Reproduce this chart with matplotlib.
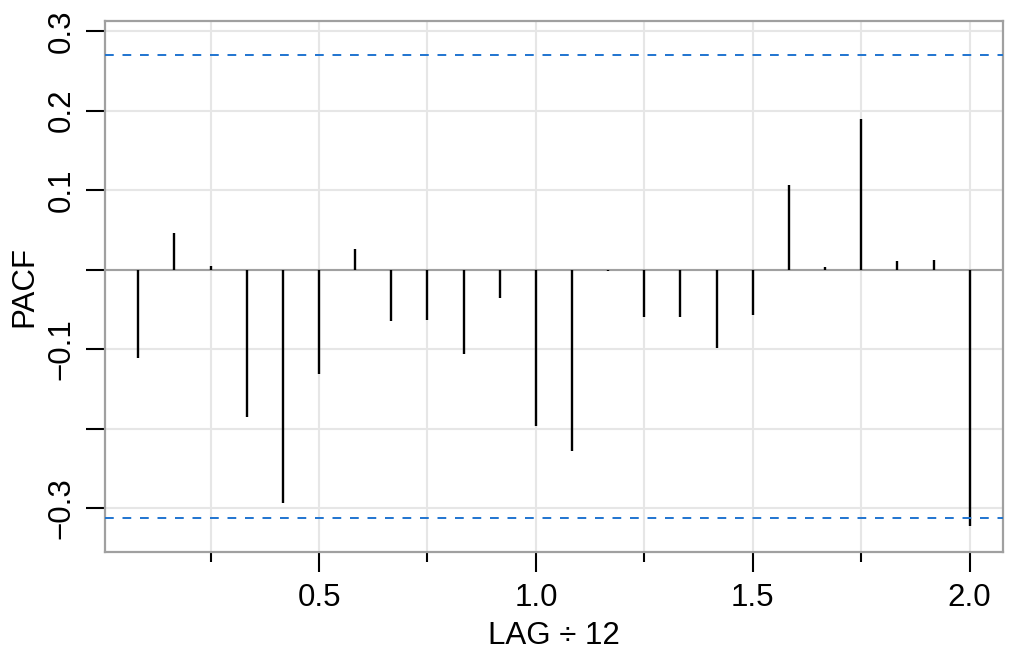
import numpy as np
import matplotlib
matplotlib.use("Agg")
import matplotlib.pyplot as plt

plt.rcParams['font.family'] = ['Liberation Sans', 'DejaVu Sans']

# PACF values, lags 1..24 (monthly, shown as lag/12)
lags = np.arange(1, 25)
pacf = [-0.111, 0.046, 0.004, -0.185, -0.294, -0.131, 0.026, -0.064,
        -0.063, -0.106, -0.036, -0.197, -0.228, -0.002, -0.060, -0.059,
        -0.098, -0.057, 0.107, 0.003, 0.189, 0.011, 0.012, -0.322]
upper_lim = 0.270
lower_lim = -0.312

y_ticks = [0.3, 0.2, 0.1, 0.0, -0.1, -0.2, -0.3]
y_labels = ['0.3', '0.2', '0.1', '', '\u22120.1', '', '\u22120.3']
x_major = [0.5, 1.0, 1.5, 2.0]
x_minor = [0.25, 0.75, 1.25, 1.75]

fig = plt.figure(figsize=(10.1, 6.52), dpi=100)
ax = fig.add_axes([0.104, 0.1534, 0.889, 0.8144])

x = lags / 12
ax.set_xlim(0.0067, 2.0767)
ax.set_ylim(-0.3551, 0.3128)

# grid
for g in x_major + x_minor:
    ax.axvline(g, color='#e6e6e6', lw=1.5, zorder=0)
for g in y_ticks:
    ax.axhline(g, color='#e6e6e6', lw=1.5, zorder=0)

ax.axhline(0, color='#a0a0a0', lw=1.5, zorder=1)
ax.vlines(x, 0, pacf, color='black', lw=1.7, zorder=2)
ax.axhline(upper_lim, color='#1f74d0', lw=1.4, ls=(0, (4.5, 4.5)), zorder=3)
ax.axhline(lower_lim, color='#1f74d0', lw=1.4, ls=(0, (4.5, 4.5)), zorder=3)

for s in ax.spines.values():
    s.set_color('#a0a0a0')
    s.set_linewidth(1.6)

fs = 22.5
ax.set_yticks(y_ticks)
ax.set_yticklabels(y_labels, rotation=90, va='center')
ax.set_xticks(x_major)
ax.set_xticklabels(['0.5', '1.0', '1.5', '2.0'])
ax.set_xticks(x_minor, minor=True)
ax.tick_params(axis='y', length=13.7, width=1.5, pad=7, labelsize=fs)
ax.tick_params(axis='x', which='major', length=14.4, width=1.5, pad=8, labelsize=fs)
ax.tick_params(axis='x', which='minor', length=7.2, width=1.5)

ax.set_xlabel('LAG \u00f7 12', fontsize=fs)
ax.xaxis.set_label_coords(0.5, -0.130)
ax.set_ylabel('PACF', fontsize=fs)
ax.yaxis.set_label_coords(-0.0735, 0.5)

fig.savefig('out.png', dpi=100)
